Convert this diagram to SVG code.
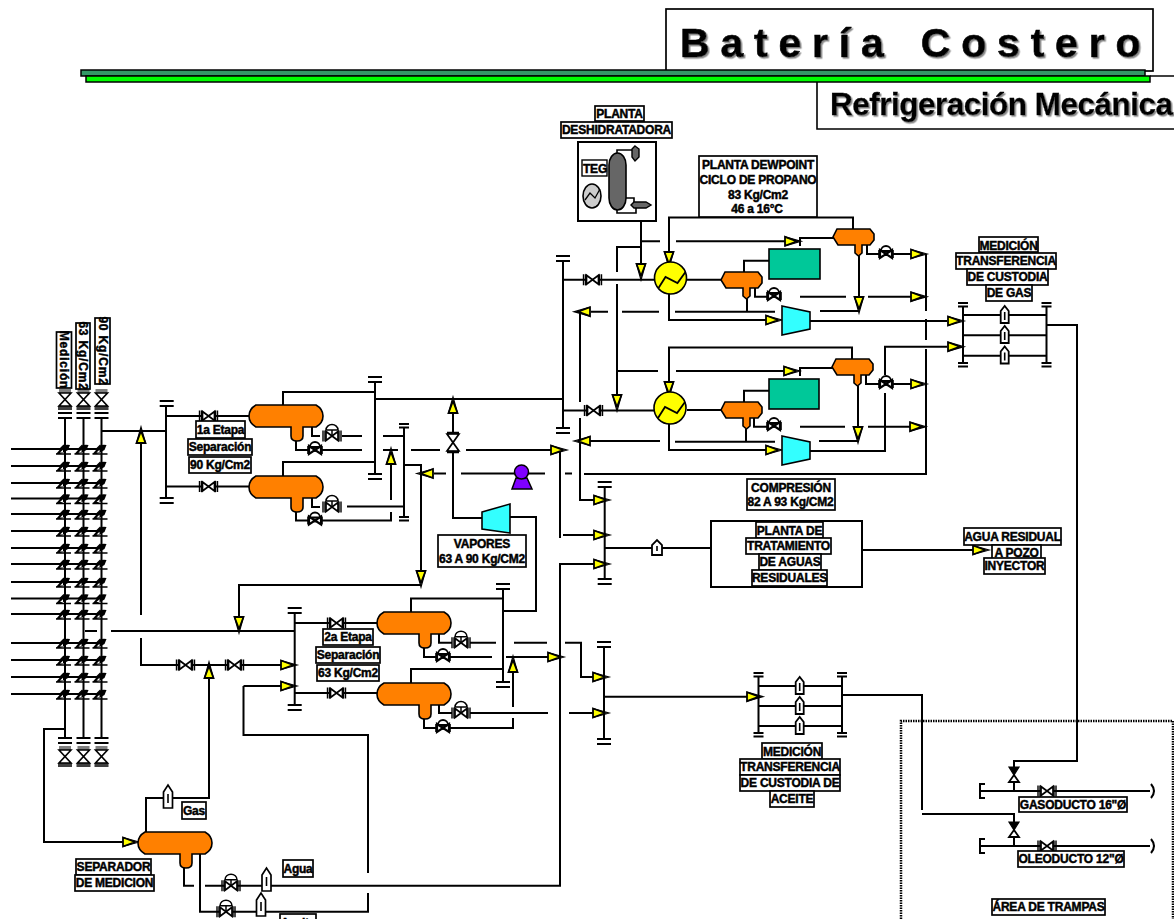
<svg xmlns="http://www.w3.org/2000/svg" width="1174" height="919" viewBox="0 0 1174 919">
<style>
text{font-family:"Liberation Sans",Arial,sans-serif;font-weight:bold;fill:#000}
.l{font-size:12px;text-anchor:middle;stroke:#000;stroke-width:.45;letter-spacing:-.22px}
.b{fill:#fff;stroke:#000;stroke-width:1.7}
.p{fill:none;stroke:#000;stroke-width:2}
.o{fill:#ff8000;stroke:#000;stroke-width:1.6}
.c{fill:#33ffff;stroke:#000;stroke-width:1.6}
.g{fill:#00c899;stroke:#000;stroke-width:1.6}
.y{fill:#ffff00;stroke:#000;stroke-width:1.6}
.t1{font-size:41px;letter-spacing:10.8px;word-spacing:4px;stroke:#000;stroke-width:.6}
.t2{font-size:31.5px;letter-spacing:-.5px;stroke:#000;stroke-width:.3}
</style>
<defs>
<filter id="sh" x="-5%" y="-20%" width="110%" height="150%"><feDropShadow dx="1.5" dy="1.5" stdDeviation=".7" flood-color="#888"/></filter>
<g id="a"><path d="M-15,-4.5 L-15,4.5 L-3,0 Z" fill="#ffff00" stroke="#000" stroke-width="1.8"/><path d="M-15,-4.5 L1,0 L-15,4.5" fill="none" stroke="#000" stroke-width="1.2"/></g>
<g id="gv"><path d="M-6,-4.5 L6,4.5 V-4.5 L-6,4.5 Z" fill="#fff" stroke="#000" stroke-width="1.7"/><path d="M-9,-5.5 V5.5 M-7,-5.5 V5.5 M7,-5.5 V5.5 M9,-5.5 V5.5" stroke="#000" stroke-width="1.4" fill="none"/></g>
<g id="cv"><use href="#gv"/><path d="M0,0 V-6 M-6,-6 A6,5.5 0 0 1 6,-6 Z" fill="#fff" stroke="#000" stroke-width="1.5"/></g>
<g id="bv"><path d="M-6,-4 L6,4 V-4 L-6,4 Z" fill="#fff" stroke="#000" stroke-width="2.2"/><path d="M-7,-4 V4 M7,-4 V4" stroke="#000" stroke-width="1.6"/><path d="M-5,-3 A5,5 0 0 1 5,-3 Z" fill="#fff" stroke="#000" stroke-width="1.8"/><circle r="2" fill="#000"/></g>
<g id="rv"><path d="M-6,0 H6 L-6,13 H6 Z" fill="#fff" stroke="#000" stroke-width="1.6"/><path d="M-6,-3 H6 M-6,-1 H6" stroke="#000" stroke-width="1" /><path d="M-7,14 H7 M-7,16 H7" stroke="#000" stroke-width="1.6"/></g>
<g id="m"><path d="M-4.5,11 V-5 L0,-12 L4.5,-5 V11 Z" fill="#fff" stroke="#000" stroke-width="1.7"/><path d="M0,-3 V6" stroke="#000" stroke-width="1.6"/></g>
<g id="ms"><path d="M-4,8 V-4 L0,-9 L4,-4 V8 Z" fill="#fff" stroke="#000" stroke-width="1.8"/><path d="M0,-3 V5" stroke="#000" stroke-width="1.6"/></g>
<g id="mw"><path d="M-5,7 V-3 L0,-8 L5,-3 V7 Z" fill="#fff" stroke="#000" stroke-width="1.8"/><path d="M0,-2 V3" stroke="#000" stroke-width="1.6"/></g>
<g id="ck"><path d="M-9,5 L-2,-3 Q1,-5 5,-4 L3,1 Q-2,4 -5,5 Z" fill="#000"/><path d="M-9,5 H6 M-5,0 L-1,-4" stroke="#000" stroke-width="1.4" fill="none"/><path d="M-5,3.5 L-2,.8 V3.5 Z" fill="#fff"/></g>
<g id="tv"><path d="M-5,-8 H5 L0,0 Z" fill="#000" stroke="#000" stroke-width="1.2"/><path d="M0,0 L-5,7 H5 Z" fill="#fff" stroke="#000" stroke-width="1.8"/></g>
<path id="vb" class="o" d="M7,0 H67 Q74,4 74,11 Q74,18 67,22 H54 V31 Q54,36 48,36 Q42,36 42,31 V22 H7 Q0,18 0,11 Q0,4 7,0 Z"/>
<path id="vs" class="o" d="M4,0 H37 L41,5 V11 L37,16 H29 V24 L25.5,27 L22,24 V16 H5 L0,8 Z"/>
<g id="hx"><circle r="16" class="y"/><path d="M-12,10 L-5,-1 L7,5 L15,-6" fill="none" stroke="#000" stroke-width="1.8"/></g>
<path id="cp" class="c" d="M0,0 L28,6 V23 L0,29 Z"/>
<path id="cap" d="M-7,0 H7 M-7,5 H7" stroke="#000" stroke-width="2" fill="none"/>
<path id="caps" d="M-5,0 H5 M-5,3.5 H5" stroke="#000" stroke-width="2" fill="none"/>
</defs>
<rect width="1174" height="919" fill="#fff"/>

<g id="titulo">
<rect class="b" x="666" y="9" width="487" height="62"/>
<text class="t1" x="680" y="57" filter="url(#sh)">Batería Costero</text>
<rect x="81" y="70" width="1064" height="6" fill="#339966" stroke="#000" stroke-width="1.5"/>
<rect x="86" y="76" width="1064" height="6" fill="#00ff00" stroke="#000" stroke-width="1.5"/>
<path d="M1150,76 H1174" stroke="#000" stroke-width="1.5"/>
<path d="M817,82 V129 H1174" fill="none" stroke="#000" stroke-width="1.6"/>
<text class="t2" x="830" y="115" filter="url(#sh)">Refrigeración Mecánica</text>
</g>

<g id="area-trampas"><path d="M901,919 V721 H1173 V919" fill="none" stroke="#000" stroke-width="2.5" stroke-dasharray="1.5 1"/></g>

<g id="connectors" class="p">
<path d="M65,419 V738 M83.5,419 V738 M101.5,419 V738"/>
<path d="M11,449 H102 M11,466 H102 M11,483 H102 M11,498.5 H102 M11,514 H102 M11,531 H102 M11,548 H102 M11,564 H102 M11,582 H102 M11,598.5 H102 M11,614 H102 M11,643 H102 M11,660 H102 M11,677 H102 M11,694 H102 M85,631 H97 M111,631 H294"/>
<path d="M65,729 H44 V842 H125"/>
<path d="M102,431 H166 M141,443 V615 M141,638 V665 H295"/>
<path d="M146,832 V798 H209 V675"/>
<path d="M166,406 V498 M166,416 H249 M166,486.5 H249"/>
<path d="M375,382 V474 M283,405 V392 H375 M283,476 V462 H375 M375,399 H563"/>
<path d="M312,427 V436 H320 M342,436 H362 M383,436 H404"/>
<path d="M296,441 V450 H362 M383,450 H398 M411,450 H440 M466,450 H555"/>
<path d="M312,498 V507 H320 M347,506.5 H404"/>
<path d="M296,512 V520.5 H391 V512 M391,500 V462"/>
<path d="M404,428 V517 M404,465 H421 V572 M421,585 H239 V620"/>
<path d="M434,473.5 H446 M461,473.5 H545 M565,473.5 H572 M584,474 H926 V349 M926,340 V319 M926,311 V254"/>
<path d="M453,408 V434 M453,452 V518 H483 M510,517 H536 V611 H503"/>
<path d="M294.7,613 V705 M294.7,623 H377 M294.7,693 H377"/>
<path d="M503,589 V682 M411,612 V598.6 H503 M411,683 V669 H503"/>
<path d="M439,633 V642.7 H452 M470,642.7 H496 M514,642.7 H547 M565,642.7 H581 V677 H595"/>
<path d="M424,648 V657 H436 M450,657 H492 M506,657 H550"/>
<path d="M439,704 V713 H452 M470,713 H548 M569,713 H595"/>
<path d="M424,719 V728 H513 V718 M513,707 V672"/>
<path d="M243.5,686 V735 H368 V873 M368,893 V911.7 H200 V853"/>
<path d="M243.5,686 H282"/>
<path d="M184,868 V885.7 H194 M205,885.7 H560 V564 H595"/>
<path d="M560,450 V538 M563,535 H595"/>
<path d="M580,311 V402 M580,418 V500 H595"/>
<path d="M604.7,487 V580 M605,548 H711 M862,550 H975"/>
<path d="M604,648 V739 M605,696.7 H750"/>
<path d="M758.5,676 V733 M842,676 V733 M758.5,686 H842 M758.5,706 H842 M758.5,726 H842"/>
<path d="M842,695 H922 V810 M922,814 H1014 V846"/>
<path d="M963,307 V362 M1046.5,307 V362 M963,315 H1046.5 M963,335.3 H1046.5 M963,355.7 H1046.5"/>
<path d="M1046,325 H1077 V761 H1014 V791"/>
<path d="M980,791 H1150 M985,784 H980 V798 H985 M1151,784 Q1157,791 1151,798"/>
<path d="M980,846 H1150 M985,839 H980 V853 H985 M1151,839 Q1157,846 1151,853"/>
<path d="M563,260 V428 M563,279.7 H655 M563,410.5 H655"/>
<path d="M617,272 V247 H641 M617,284 V396 M641,221 V268 M641,241.3 H660 M676,241.3 H785 M800,246 V238 H834"/>
<path d="M669,255 V217.5 H853 V229"/>
<path d="M687,279.7 H721 M744,272 V260.7 H769"/>
<path d="M747,299 V311.7 M755,288 V296.7 H767 M800,296.7 H846 M868,296.7 H911"/>
<path d="M867,245 V254 H880 M893,254 H911 M859,256 V297 M820,311 H859"/>
<path d="M775,311.7 H675 M659,311.7 H622 M608,311.7 H591"/>
<path d="M669,294 V320 H766 M810,321 H947"/>
<path d="M617,371 H658 M676,371 H785 M800,376 V368 H833"/>
<path d="M669,385 V347.5 H852 V359"/>
<path d="M687,410 H721 M744,402 V390.7 H769"/>
<path d="M746,429 V441.7 M754,418 V426.7 H767 M800,426.7 H845 M868,426.7 H910"/>
<path d="M866,375 V384 H880 M893,384 H911 M858,386 V427 M819,441 H858"/>
<path d="M775,441.7 H675 M660,441 H590"/>
<path d="M669,424 V450 H766 M810,451 H885 V393 M885,375 V346.7 H947"/>
<g stroke="none">
<use href="#a" transform="translate(141,428) rotate(-90)"/>
<use href="#a" transform="translate(391,449) rotate(-90)"/>
<use href="#a" transform="translate(453,398) rotate(-90)"/>
<use href="#a" transform="translate(566,450)"/>
<use href="#a" transform="translate(418,473.5) rotate(180)"/>
<use href="#a" transform="translate(421,586) rotate(90)"/>
<use href="#a" transform="translate(239,632) rotate(90)"/>
<use href="#a" transform="translate(296,665)"/>
<use href="#a" transform="translate(296,686)"/>
<use href="#a" transform="translate(209,663) rotate(-90)"/>
<use href="#a" transform="translate(138,842)"/>
<use href="#a" transform="translate(513,657) rotate(-90)"/>
<use href="#a" transform="translate(563,657)"/>
<use href="#a" transform="translate(609,500)"/>
<use href="#a" transform="translate(609,535)"/>
<use href="#a" transform="translate(609,564)"/>
<use href="#a" transform="translate(608,677)"/>
<use href="#a" transform="translate(608,713)"/>
<use href="#a" transform="translate(762,696.7)"/>
<use href="#a" transform="translate(988,550)"/>
<use href="#a" transform="translate(641,279) rotate(90)"/>
<use href="#a" transform="translate(617,410) rotate(90)"/>
<use href="#a" transform="translate(669,267) rotate(90)"/>
<use href="#a" transform="translate(669,397) rotate(90)"/>
<use href="#a" transform="translate(800,241.3)"/>
<use href="#a" transform="translate(799,371)"/>
<use href="#a" transform="translate(926,254)"/>
<use href="#a" transform="translate(926,296.7)"/>
<use href="#a" transform="translate(926,384)"/>
<use href="#a" transform="translate(925,426.7)"/>
<use href="#a" transform="translate(859,312) rotate(90)"/>
<use href="#a" transform="translate(858,442) rotate(90)"/>
<use href="#a" transform="translate(575,311.7) rotate(180)"/>
<use href="#a" transform="translate(575,441) rotate(180)"/>
<use href="#a" transform="translate(781,320)"/>
<use href="#a" transform="translate(781,450)"/>
<use href="#a" transform="translate(963,321)"/>
<use href="#a" transform="translate(963,346.7)"/>
</g>
</g>

<g id="manifold-valvulas">
<g id="check-valves"><use href="#ck" x="65" y="449"/><use href="#ck" x="83.5" y="449"/><use href="#ck" x="101.5" y="449"/><use href="#ck" x="65" y="466"/><use href="#ck" x="83.5" y="466"/><use href="#ck" x="101.5" y="466"/><use href="#ck" x="65" y="483"/><use href="#ck" x="83.5" y="483"/><use href="#ck" x="101.5" y="483"/><use href="#ck" x="65" y="498.5"/><use href="#ck" x="83.5" y="498.5"/><use href="#ck" x="101.5" y="498.5"/><use href="#ck" x="65" y="514"/><use href="#ck" x="83.5" y="514"/><use href="#ck" x="101.5" y="514"/><use href="#ck" x="65" y="531"/><use href="#ck" x="83.5" y="531"/><use href="#ck" x="101.5" y="531"/><use href="#ck" x="65" y="548"/><use href="#ck" x="83.5" y="548"/><use href="#ck" x="101.5" y="548"/><use href="#ck" x="65" y="564"/><use href="#ck" x="83.5" y="564"/><use href="#ck" x="101.5" y="564"/><use href="#ck" x="65" y="582"/><use href="#ck" x="83.5" y="582"/><use href="#ck" x="101.5" y="582"/><use href="#ck" x="65" y="598.5"/><use href="#ck" x="83.5" y="598.5"/><use href="#ck" x="101.5" y="598.5"/><use href="#ck" x="65" y="614"/><use href="#ck" x="83.5" y="614"/><use href="#ck" x="101.5" y="614"/><use href="#ck" x="65" y="643"/><use href="#ck" x="83.5" y="643"/><use href="#ck" x="101.5" y="643"/><use href="#ck" x="65" y="660"/><use href="#ck" x="83.5" y="660"/><use href="#ck" x="101.5" y="660"/><use href="#ck" x="65" y="677"/><use href="#ck" x="83.5" y="677"/><use href="#ck" x="101.5" y="677"/><use href="#ck" x="65" y="694"/><use href="#ck" x="83.5" y="694"/><use href="#ck" x="101.5" y="694"/></g>
<g id="valvulas-sup"><use href="#rv" x="65" y="393"/><use href="#rv" x="83.5" y="393"/><use href="#rv" x="101.5" y="393"/><use href="#cap" x="65" y="413"/><use href="#cap" x="83.5" y="413"/><use href="#cap" x="101.5" y="413"/></g>
<g id="valvulas-inf"><use href="#cap" x="65" y="738"/><use href="#cap" x="83.5" y="738"/><use href="#cap" x="101.5" y="738"/><use href="#rv" x="65" y="750"/><use href="#rv" x="83.5" y="750"/><use href="#rv" x="101.5" y="750"/></g>
</g>

<g id="headers-caps">
<use href="#cap" x="166.7" y="401"/><use href="#cap" x="166.7" y="498"/>
<use href="#cap" x="375" y="377"/><use href="#cap" x="375" y="474"/>
<use href="#caps" x="404" y="424"/><use href="#caps" x="404" y="517"/>
<use href="#cap" x="294.7" y="608"/><use href="#cap" x="294.7" y="705"/>
<use href="#cap" x="503" y="584"/><use href="#cap" x="503" y="682"/>
<use href="#cap" x="563" y="256"/><use href="#cap" x="563" y="428"/>
<use href="#cap" x="604.7" y="482"/><use href="#cap" x="604.7" y="579"/>
<use href="#cap" x="604" y="642"/><use href="#cap" x="604" y="739"/>
<use href="#caps" x="758.5" y="673"/><use href="#caps" x="758.5" y="733"/>
<use href="#caps" x="842" y="673"/><use href="#caps" x="842" y="733"/>
<use href="#caps" x="963" y="303"/><use href="#caps" x="963" y="363"/>
<use href="#caps" x="1046.5" y="303"/><use href="#caps" x="1046.5" y="363"/>
</g>

<g id="sep-1a-1"><use href="#vb" x="249" y="405"/><use href="#gv" x="208.5" y="416"/><use href="#cv" x="332" y="436"/><use href="#bv" x="315" y="450"/></g>
<g id="sep-1a-2"><use href="#vb" x="249" y="476"/><use href="#gv" x="208.5" y="486.5"/><use href="#cv" x="332" y="507"/><use href="#bv" x="315" y="520.5"/></g>
<g id="sep-2a-1"><use href="#vb" x="377" y="612"/><use href="#gv" x="336.5" y="623"/><use href="#cv" x="461" y="642.7"/><use href="#bv" x="443" y="657"/></g>
<g id="sep-2a-2"><use href="#vb" x="377" y="683"/><use href="#gv" x="336.5" y="693"/><use href="#cv" x="461" y="713"/><use href="#bv" x="443" y="728"/></g>
<g id="sep-medicion"><use href="#vb" x="138" y="832"/><use href="#cv" x="231" y="885.7"/><use href="#cv" x="226" y="911.7"/><use href="#m" x="168" y="797"/><use href="#m" x="266.5" y="880"/><use href="#m" x="261" y="905"/></g>
<g id="linea-gas"><use href="#gv" x="185.5" y="665"/><use href="#gv" x="234.5" y="665"/><path d="M447,434 H459 L447,451 H459 Z" fill="#fff" stroke="#000" stroke-width="1.7"/><path d="M447,452 H459 M447,433 H459" stroke="#000" stroke-width="2.5"/></g>
<g id="bomba"><path d="M512,489 L516,478 H527 L532,489 Z" fill="#7f00ff" stroke="#000" stroke-width="1.5"/><circle cx="521.5" cy="472" r="7" fill="#7f00ff" stroke="#000" stroke-width="1.5"/></g>
<g id="compresor-vapores"><path class="c" d="M482,512 L510,504 V533 L482,529 Z"/></g>

<g id="planta-deshidratadora">
<rect x="578" y="142" width="78" height="79" fill="#fff" stroke="#000" stroke-width="2"/>
<path d="M617,153 V150 H632 M626,198 H634 V203 M617,210 V213 H636 V208" fill="none" stroke="#000" stroke-width="1.6"/>
<rect x="609" y="153" width="17" height="57" rx="8.5" ry="12" fill="#666" stroke="#000" stroke-width="1.6"/>
<path d="M635,146 L639,149 V157 L635,161 L632,157 V149 Z" fill="#666" stroke="#000" stroke-width="1.4"/>
<path d="M634,202 H646 L651,205 L646,208 H634 L631,205 Z" fill="#666" stroke="#000" stroke-width="1.4"/>
<ellipse cx="592" cy="196" rx="9" ry="12" fill="#ccc" stroke="#000" stroke-width="1.6"/>
<path d="M585,200 L590,193 L595,198 L600,189" fill="none" stroke="#000" stroke-width="1.3"/>
<rect x="582" y="160" width="25" height="16" fill="#fff" stroke="#000" stroke-width="1.4"/>
<text class="l" x="595" y="173">TEG</text>
</g>

<g id="dewpoint-1"><use href="#gv" x="592.5" y="279.7"/><use href="#hx" x="670.5" y="278"/><use href="#vs" x="721" y="272"/><rect class="g" x="769" y="249" width="51" height="30"/><use href="#vs" x="833" y="229"/><use href="#bv" x="774" y="296"/><use href="#bv" x="886" y="254"/><use href="#cp" x="782" y="306"/></g>
<g id="dewpoint-2"><use href="#gv" x="593.5" y="410.5"/><use href="#hx" x="670" y="408"/><use href="#vs" x="721" y="402"/><rect class="g" x="769" y="379" width="50" height="30"/><use href="#vs" x="832" y="359"/><use href="#bv" x="774" y="426"/><use href="#bv" x="886" y="384"/><use href="#cp" x="782" y="436"/></g>

<g id="medidores-gas"><use href="#ms" x="1004.7" y="315"/><use href="#ms" x="1004.7" y="335"/><use href="#ms" x="1004.7" y="355.5"/></g>
<g id="medidores-aceite"><use href="#ms" x="799.7" y="686"/><use href="#ms" x="799.7" y="706"/><use href="#ms" x="799.7" y="726"/></g>
<g id="medidor-agua"><use href="#mw" x="657" y="548"/></g>
<g id="planta-aguas"><rect x="711" y="521" width="151" height="66" fill="#fff" stroke="#000" stroke-width="2"/></g>
<g id="trampas">
<use href="#tv" x="1014" y="775"/><use href="#tv" x="1014" y="830"/>
<use href="#gv" x="1047" y="791"/><use href="#gv" x="1047" y="846"/>
</g>

<g id="etiquetas">
<g transform="translate(63.5,360) rotate(90)"><rect class="b" x="-28" y="-8" width="56" height="15"/><text class="l" y="4" style="letter-spacing:.8px">Medición</text></g>
<g transform="translate(83,356) rotate(90)"><rect class="b" x="-33" y="-7" width="66" height="14"/><text class="l" y="4" style="letter-spacing:.8px">63 Kg/Cm2</text></g>
<g transform="translate(102.5,351) rotate(90)"><rect class="b" x="-33" y="-7.5" width="66" height="15"/><text class="l" y="4" style="letter-spacing:.8px">90 Kg/Cm2</text></g>

<rect class="b" x="595" y="106" width="49" height="15"/><text class="l" x="619.5" y="118">PLANTA</text>
<rect class="b" x="561" y="122" width="111" height="16"/><text class="l" x="616.5" y="134">DESHIDRATADORA</text>
<rect class="b" x="699" y="156" width="118" height="61"/>
<text class="l" x="758" y="169">PLANTA DEWPOINT</text><text class="l" x="758" y="184">CICLO DE PROPANO</text><text class="l" x="758" y="199">83 Kg/Cm2</text><text class="l" x="757" y="213">46 a 16°C</text>
<rect class="b" x="979" y="237" width="59" height="15"/><text class="l" x="1008.5" y="250">MEDICIÓN</text>
<rect class="b" x="956" y="253" width="100" height="16"/><text class="l" x="1006" y="265">TRANSFERENCIA</text>
<rect class="b" x="967" y="269" width="81" height="16"/><text class="l" x="1007.5" y="281">DE CUSTODIA</text>
<rect class="b" x="986" y="285" width="46" height="16"/><text class="l" x="1009" y="297">DE GAS</text>
<rect class="b" x="196" y="421" width="49" height="17"/><text class="l" x="220.5" y="434">1a Etapa</text>
<rect class="b" x="188" y="439" width="64" height="16"/><text class="l" x="220" y="451">Separación</text>
<rect class="b" x="189" y="457" width="62" height="16"/><text class="l" x="220" y="469">90 Kg/Cm2</text>
<rect class="b" x="323" y="629" width="50" height="16"/><text class="l" x="348" y="641">2a Etapa</text>
<rect class="b" x="316" y="647" width="64" height="16"/><text class="l" x="348" y="659">Separación</text>
<rect class="b" x="317" y="665" width="62" height="16"/><text class="l" x="348" y="677">63 Kg/Cm2</text>
<rect class="b" x="438" y="535" width="88" height="32"/><text class="l" x="482" y="548">VAPORES</text><text class="l" x="482" y="563">63 A 90 Kg/CM2</text>
<rect class="b" x="747" y="479" width="88" height="31"/><text class="l" x="791" y="492">COMPRESIÓN</text><text class="l" x="790.5" y="506">82 A 93 Kg/CM2</text>
<rect class="b" x="756" y="522" width="67" height="16"/><text class="l" x="789.5" y="534.5">PLANTA DE</text>
<rect class="b" x="746" y="538" width="85" height="16"/><text class="l" x="788.5" y="550">TRATAMIENTO</text>
<rect class="b" x="759" y="554" width="62" height="16"/><text class="l" x="790" y="566">DE AGUAS</text>
<rect class="b" x="752" y="570" width="75" height="16"/><text class="l" x="789.5" y="582">RESIDUALES</text>
<rect class="b" x="964" y="528" width="97" height="17"/><text class="l" x="1012.5" y="541">AGUA RESIDUAL</text>
<rect class="b" x="992" y="545" width="49" height="15"/><text class="l" x="1016.5" y="557">A POZO</text>
<rect class="b" x="984" y="558" width="61" height="16"/><text class="l" x="1014.5" y="570">INYECTOR</text>
<rect class="b" x="762" y="743" width="60" height="16"/><text class="l" x="792" y="756">MEDICIÓN</text>
<rect class="b" x="740" y="759" width="100" height="16"/><text class="l" x="790" y="771">TRANSFERENCIA</text>
<rect class="b" x="740" y="775" width="100" height="16"/><text class="l" x="790" y="787">DE CUSTODIA DE</text>
<rect class="b" x="770" y="791" width="44" height="16"/><text class="l" x="792" y="803">ACEITE</text>
<rect class="b" x="1019" y="797" width="108" height="15"/><text class="l" x="1073" y="809">GASODUCTO 16"Ø</text>
<rect class="b" x="1018" y="851" width="106" height="16"/><text class="l" x="1071" y="863">OLEODUCTO 12"Ø</text>
<rect class="b" x="992" y="899" width="113" height="16"/><text class="l" x="1048.5" y="911">ÁREA DE TRAMPAS</text>
<rect class="b" x="182" y="802" width="24" height="17"/><text class="l" x="194" y="815">Gas</text>
<rect class="b" x="283" y="860" width="30" height="17"/><text class="l" x="298" y="873">Agua</text>
<rect class="b" x="280" y="914" width="36" height="17"/><text class="l" x="298" y="927">Aceite</text>
<rect class="b" x="76" y="859" width="75" height="16"/><text class="l" x="113.5" y="871">SEPARADOR</text>
<rect class="b" x="75" y="875" width="79" height="16"/><text class="l" x="114.5" y="887">DE MEDICION</text>
</g>
</svg>
